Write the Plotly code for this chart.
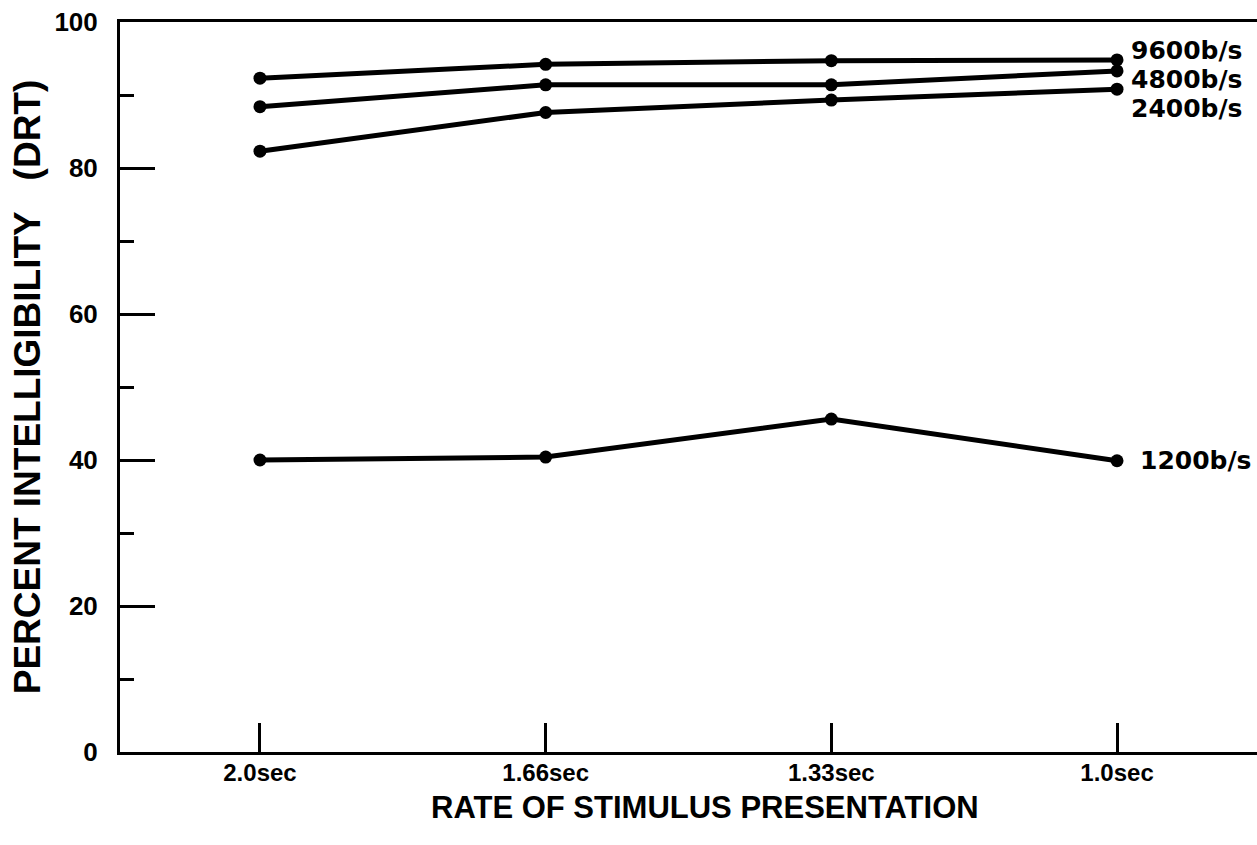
import plotly.graph_objects as go

categories = ["2.0sec", "1.66sec", "1.33sec", "1.0sec"]
x_pos = [0, 1, 2, 3]
rate_9600 = [92.3, 94.2, 94.7, 94.8]
rate_4800 = [88.4, 91.4, 91.4, 93.3]
rate_2400 = [82.3, 87.6, 89.3, 90.8]
rate_1200 = [40.0, 40.4, 45.6, 39.9]
series_names = ["9600b/s", "4800b/s", "2400b/s", "1200b/s"]
label_yshift = [9, -9, -19, 0]
y_ticks = [0, 20, 40, 60, 80, 100]

FONT = "Liberation Sans"
TFONT = "DejaVu Sans"
fig = go.Figure()
for name, vals in zip(series_names, [rate_9600, rate_4800, rate_2400, rate_1200]):
    fig.add_trace(go.Scatter(
        x=x_pos, y=vals, mode="lines+markers", name=name,
        line=dict(color="black", width=5),
        marker=dict(color="black", size=13),
        showlegend=False, cliponaxis=False,
    ))

for name, vals, ys in zip(series_names, [rate_9600, rate_4800, rate_2400, rate_1200], label_yshift):
    fig.add_annotation(
        x=x_pos[-1], y=vals[-1], xref="x", yref="y", text="<b>%s</b>" % name,
        showarrow=False, xanchor="left", yanchor="middle",
        xshift=12 if name != "1200b/s" else 21, yshift=ys,
        font=dict(family=TFONT, size=25, color="black"),
    )

# x-axis title (slightly right of centre, as in the original)
fig.add_annotation(
    x=0.5145, y=-0.076, xref="paper", yref="paper",
    text="<b>RATE OF STIMULUS PRESENTATION</b>", showarrow=False,
    xanchor="center", yanchor="middle",
    font=dict(family=FONT, size=31, color="black"),
)

fig.update_layout(
    width=1257, height=845,
    margin=dict(l=120, r=0, t=22, b=93),
    plot_bgcolor="white", paper_bgcolor="white",
    font=dict(family=FONT, color="black"),
)
fig.update_xaxes(
    range=[-0.49, 3.49], tickmode="array", tickvals=x_pos,
    ticktext=["<b>%s</b>" % c for c in categories],
    ticks="inside", ticklen=29, tickwidth=3, tickcolor="black",
    showline=True, linecolor="black", linewidth=3, mirror=True,
    showgrid=False, zeroline=False, ticklabelstandoff=-3,
    tickfont=dict(family=FONT, size=24, color="black"),
)
fig.update_yaxes(
    range=[0, 100], tickmode="array", tickvals=y_ticks,
    ticktext=["<b>%d</b>" % v for v in y_ticks],
    ticks="inside", ticklen=35, tickwidth=3, tickcolor="black",
    minor=dict(ticks="inside", ticklen=14, tickwidth=3, tickcolor="black",
               tickmode="array", tickvals=[10, 30, 50, 70, 90], showgrid=False),
    showline=True, linecolor="black", linewidth=3,
    showgrid=False, zeroline=False,
    ticklabelstandoff=14,
    tickfont=dict(family=FONT, size=26, color="black"),
    title=dict(text="<b>PERCENT INTELLIGIBILITY\u00a0\u00a0\u00a0(DRT)</b>",
               font=dict(family=FONT, size=37, color="black"), standoff=3),
)

fig.write_html("out.html")
